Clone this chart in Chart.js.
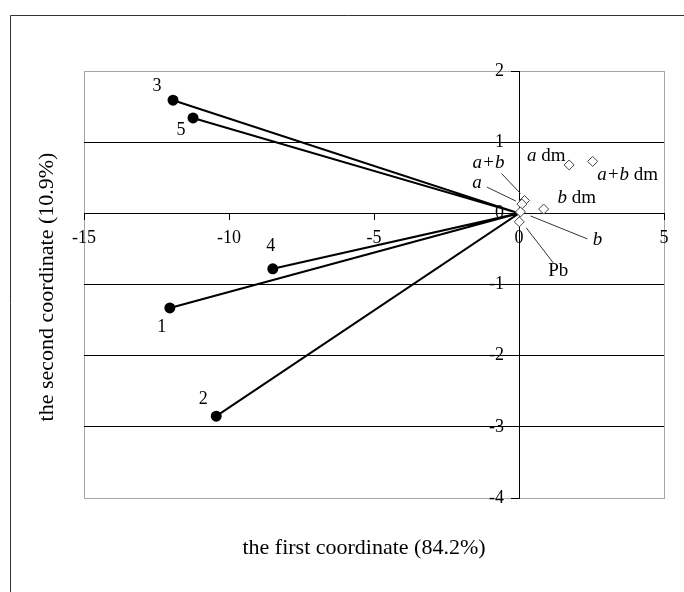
<!DOCTYPE html>
<html>
<head>
<meta charset="utf-8">
<script src="https://cdn.jsdelivr.net/npm/chart.js@4.4.1/dist/chart.umd.min.js"></script>
<style>
  html, body { margin: 0; padding: 0; background: #fff; }
</style>
</head>
<body>
<canvas id="biplot" width="684" height="592"></canvas>
<script>
// row points (filled dots, joined to the origin)
const rowNames = ["1", "2", "3", "4", "5"];
const rowX = [-12.04, -10.44, -11.93, -8.49, -11.24];
const rowY = [-1.33, -2.85, 1.59, -0.78, 1.34];

// column points (open diamonds)
const colNames = ["a dm", "a+b dm", "b dm", "a+b", "a", "b", "Pb"];
const colX = [1.73, 2.54, 0.85, 0.19, 0.10, 0.05, 0.01];
const colY = [0.68, 0.73, 0.06, 0.18, 0.13, 0.02, -0.12];

const xTicks = [-15, -10, -5, 0, 5];
const yTicks = [-4, -3, -2, -1, 0, 1, 2];

const xTitle = "the first coordinate (84.2%)";
const yTitle = "the second coordinate (10.9%)";

const SERIF = '"Liberation Serif", "Times New Roman", serif';

// where the labels sit relative to their point, in pixels
const rowLabelPos = [[-8, 19], [-13, -17], [-16, -14], [-2, -23], [-12, 12]];
const colLabelPos = [[-23, -9], [35, 14], [33, -11], [-36, -38], [-45, -21], [77, 28], [39, 49]];
const colLeaders = [null, null, null, [-23, -27, -4, -7], [-35, -17, -6, -3], [10, 4, 67, 27], [7, 6, 34, 41]];

function drawMixed(ctx, text, cx, cy, size) {
    // single letters a, b (and a+b) are set in italics
    const parts = text.split(" ").map((t, i) => ({
        t: (i > 0 ? " " : "") + t,
        italic: /^[ab+]+$/.test(t)
    }));
    let total = 0;
    parts.forEach(p => {
        ctx.font = (p.italic ? "italic " : "") + size + "px " + SERIF;
        p.w = ctx.measureText(p.t).width;
        total += p.w;
    });
    let x = cx - total / 2;
    ctx.textAlign = "left";
    ctx.textBaseline = "middle";
    parts.forEach(p => {
        ctx.font = (p.italic ? "italic " : "") + size + "px " + SERIF;
        ctx.fillText(p.t, x, cy);
        x += p.w;
    });
}

const decor = {
    id: "decor",
    beforeDraw(chart) {
        const ctx = chart.ctx;
        const a = chart.chartArea;
        ctx.save();
        ctx.fillStyle = "#fff";
        ctx.fillRect(0, 0, chart.width, chart.height);
        // outer frame
        ctx.strokeStyle = "#333";
        ctx.lineWidth = 1;
        ctx.beginPath();
        ctx.moveTo(10.5, chart.height);
        ctx.lineTo(10.5, 15.5);
        ctx.lineTo(chart.width, 15.5);
        ctx.stroke();
        // plot frame
        ctx.strokeStyle = "#a6a6a6";
        ctx.strokeRect(a.left + 0.5, a.top + 0.5, a.right - a.left, a.bottom - a.top);
        ctx.restore();
    },
    afterDraw(chart) {
        const ctx = chart.ctx;
        const xs = chart.scales.x, ys = chart.scales.y;
        ctx.save();
        ctx.fillStyle = "#000";

        // row labels
        rowNames.forEach((n, i) => {
            const px = xs.getPixelForValue(rowX[i]);
            const py = ys.getPixelForValue(rowY[i]);
            drawMixed(ctx, n, px + rowLabelPos[i][0], py + rowLabelPos[i][1], 18);
        });

        // column labels and leader lines
        ctx.strokeStyle = "#333";
        ctx.lineWidth = 1;
        colNames.forEach((n, i) => {
            const px = xs.getPixelForValue(colX[i]);
            const py = ys.getPixelForValue(colY[i]);
            const l = colLeaders[i];
            if (l) {
                ctx.beginPath();
                ctx.moveTo(px + l[0], py + l[1]);
                ctx.lineTo(px + l[2], py + l[3]);
                ctx.stroke();
            }
            drawMixed(ctx, n, px + colLabelPos[i][0], py + colLabelPos[i][1], 19);
        });

        // axis titles
        ctx.font = "22px " + SERIF;
        ctx.textAlign = "center";
        ctx.textBaseline = "middle";
        ctx.fillText(xTitle, 364, 548);
        ctx.translate(47, 287);
        ctx.rotate(-Math.PI / 2);
        ctx.fillText(yTitle, 0, 0);
        ctx.restore();
    }
};

const rays = [];
rowX.forEach((x, i) => {
    rays.push({ x: 0, y: 0 });
    rays.push({ x: x, y: rowY[i] });
});

const cols = colX.map((x, i) => ({ x: x, y: colY[i] }));

new Chart(document.getElementById("biplot"), {
    type: "scatter",
    data: {
        datasets: [
            {
                data: cols,
                pointStyle: "rectRot",
                pointRadius: 5,
                pointBackgroundColor: "#fff",
                pointBorderColor: "#444",
                pointBorderWidth: 1,
                order: 0
            },
            {
                data: rays,
                showLine: true,
                borderColor: "#000",
                borderWidth: 2,
                pointRadius: ctx => (ctx.dataIndex % 2 ? 4.5 : 0),
                pointBackgroundColor: "#000",
                pointBorderColor: "#000",
                order: 1
            }
        ]
    },
    options: {
        responsive: false,
        animation: false,
        devicePixelRatio: 1,
        layout: { padding: { left: 84, top: 71, right: 20, bottom: 94 } },
        plugins: {
            legend: { display: false },
            tooltip: { enabled: false }
        },
        scales: {
            x: {
                type: "linear",
                position: { y: 0 },
                min: -15,
                max: 5,
                afterBuildTicks: s => { s.ticks = xTicks.map(v => ({ value: v })); },
                grid: { drawOnChartArea: false, tickLength: 6, color: "#000" },
                border: { color: "#000", width: 1 },
                ticks: { color: "#000", padding: 8, font: { family: SERIF, size: 18 } }
            },
            y: {
                type: "linear",
                position: { x: 0 },
                min: -4,
                max: 2,
                afterBuildTicks: s => { s.ticks = yTicks.map(v => ({ value: v })); },
                grid: {
                    tickLength: 8,
                    tickColor: "#000",
                    color: c => (c.tick && (c.tick.value === 2 || c.tick.value === -4) ? "#a6a6a6" : "#000")
                },
                border: { color: "#000", width: 1 },
                ticks: {
                    color: "#000",
                    font: { family: SERIF, size: 18 },
                    // labels stand off the axis; the centred axis ignores padding
                    callback: v => v + "\u2002\u2004"
                }
            }
        }
    },
    plugins: [decor]
});
</script>
</body>
</html>
